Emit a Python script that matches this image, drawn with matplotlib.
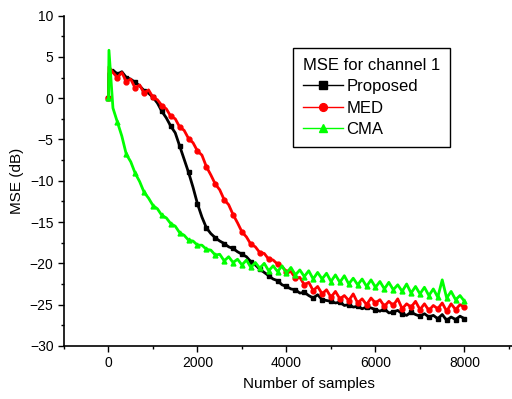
import numpy as np
import matplotlib
matplotlib.use("Agg")
import matplotlib.pyplot as plt
from matplotlib.ticker import MultipleLocator

plt.rcParams['font.family'] = ['Liberation Sans', 'DejaVu Sans']

# samples: start point, the first jump, then every 100 samples
samples = [0, 10] + list(range(100, 8001, 100))

proposed = [0.0, 3.0,
            3.4, 2.9, 3.2, 2.5, 2.3, 1.9, 1.5, 0.9, 0.6, 0.1,
            -0.6, -1.6, -2.4, -3.4, -4.2, -5.8, -7.4, -9.0, -10.8, -12.8,
            -14.4, -15.7, -16.4, -16.9, -17.3, -17.6, -18.0, -18.2, -18.6, -18.9,
            -19.2, -19.8, -20.2, -20.7, -21.1, -21.5, -21.9, -22.1, -22.6, -22.8,
            -23.1, -23.2, -23.6, -23.5, -23.9, -24.2, -23.8, -24.4, -24.5, -24.6,
            -24.8, -24.7, -25.1, -25.0, -25.3, -25.2, -25.5, -25.3, -25.4, -25.6,
            -25.8, -25.5, -26.0, -25.9, -25.7, -26.1, -26.3, -25.9, -26.2, -26.4,
            -26.1, -26.5, -26.3, -26.7, -26.2, -26.9, -26.5, -26.8, -26.4, -26.7]

med = [0.0, 3.8,
       3.1, 2.5, 3.1, 2.0, 2.3, 1.2, 1.6, 0.6, 1.0, 0.1,
       -0.2, -0.9, -1.3, -2.2, -2.5, -3.5, -3.9, -4.9, -5.4, -6.4,
       -6.9, -8.3, -9.3, -10.4, -11.1, -12.3, -12.9, -14.1, -15.1, -16.2,
       -16.8, -17.7, -18.0, -18.7, -18.8, -19.5, -19.6, -20.1, -20.4, -21.0,
       -21.0, -21.8, -21.7, -22.6, -22.3, -23.3, -22.8, -23.7, -23.2, -24.1,
       -23.4, -24.3, -23.9, -24.5, -23.7, -24.8, -24.3, -25.0, -24.2, -24.8,
       -24.4, -25.2, -24.6, -25.1, -24.3, -25.5, -24.9, -25.3, -24.6, -25.6,
       -24.9, -25.7, -25.1, -25.5, -24.8, -25.8, -24.9, -25.6, -25.0, -25.3]

cma = [0.0, 5.8,
       -1.2, -2.9, -4.6, -6.8, -7.7, -9.1, -10.1, -11.4, -12.1, -13.0,
       -13.4, -14.2, -14.5, -15.2, -15.5, -16.3, -16.6, -17.2, -17.3, -17.8,
       -17.8, -18.3, -18.4, -19.0, -18.9, -19.7, -19.2, -19.9, -19.5, -20.2,
       -19.6, -20.5, -19.9, -20.6, -20.0, -20.9, -20.3, -21.0, -20.3, -21.2,
       -20.5, -21.4, -20.8, -21.6, -20.9, -21.9, -21.1, -21.9, -21.2, -22.2,
       -21.4, -22.3, -21.5, -22.5, -21.8, -22.6, -21.9, -22.8, -22.0, -22.9,
       -22.2, -23.1, -22.3, -23.2, -22.6, -23.4, -22.5, -23.6, -22.8, -23.7,
       -22.9, -23.9, -23.1, -24.1, -22.0, -24.2, -23.4, -24.4, -23.9, -24.6]

# a marker every 200 samples
marks = [0] + list(range(3, len(samples), 2))

fig = plt.figure(figsize=(5.12, 3.99), dpi=100)
ax = fig.add_axes([0.125, 0.133, 0.956, 0.828])

ax.plot(samples, proposed, color='black', lw=2.0, marker='s', ms=3.5, markevery=marks, label='Proposed')
ax.plot(samples, med, color='#ff0000', lw=2.0, marker='o', ms=3.5, markevery=marks, label='MED')
ax.plot(samples, cma, color='#00ff00', lw=2.0, marker='^', ms=3.5, markevery=marks, label='CMA')

ax.set_xlim(-1000, 10000)
ax.set_ylim(-30, 10)
ax.set_xticks(range(0, 8001, 2000))
ax.set_xticks(range(-1000, 10001, 1000), minor=True)
ax.yaxis.set_major_locator(MultipleLocator(5))
ax.yaxis.set_minor_locator(MultipleLocator(2.5))
ax.tick_params(which='major', direction='out', length=4, width=1, labelsize=10)
ax.tick_params(which='minor', direction='out', length=2.5, width=1)

for s in ['top', 'right']:
    ax.spines[s].set_visible(False)
for s in ['left', 'bottom']:
    ax.spines[s].set_linewidth(1.2)

ax.set_xlabel('Number of samples', fontsize=11, labelpad=5)
ax.set_ylabel('MSE (dB)', fontsize=11, labelpad=4)

leg = ax.legend(title='MSE for channel 1', loc='upper left', bbox_to_anchor=(0.468, 0.902),
                borderaxespad=0, fontsize=12, title_fontsize=12, fancybox=False,
                edgecolor='black', framealpha=1, handlelength=2.4, handletextpad=0.2,
                labelspacing=0.38, borderpad=0.6, alignment='left', markerscale=1.6)
leg.get_frame().set_linewidth(1.0)
for line in leg.get_lines():
    line.set_linewidth(1.0)

fig.savefig('out.png', dpi=100)
